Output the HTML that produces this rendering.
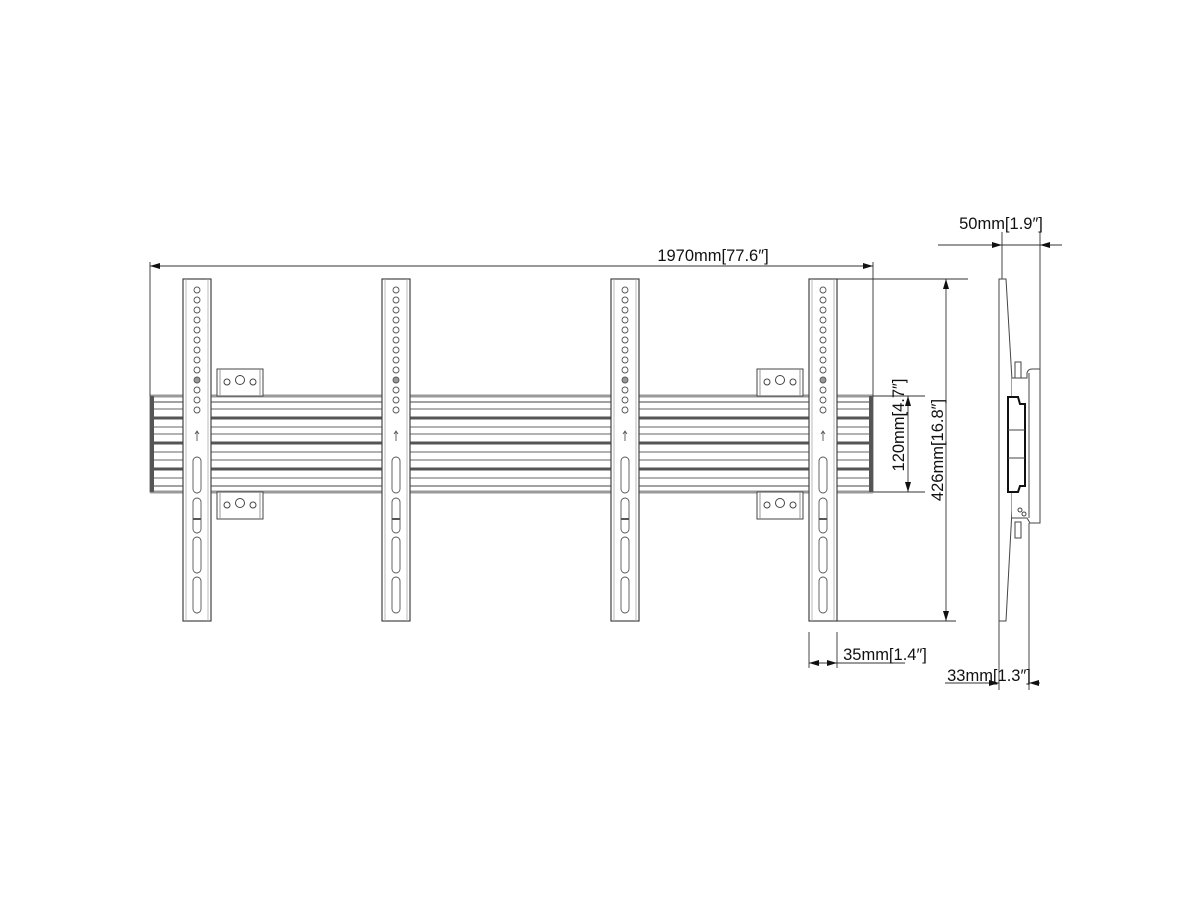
<!DOCTYPE html>
<html><head><style>body{margin:0;background:#fff}svg{display:block}text{font-family:"Liberation Sans",sans-serif;font-size:16.5px;fill:#111}</style></head>
<body>
<svg width="1200" height="900" viewBox="0 0 1200 900" xmlns="http://www.w3.org/2000/svg">
<defs>
<marker id="a" viewBox="0 0 10 6" refX="10" refY="3" markerWidth="10" markerHeight="6" orient="auto-start-reverse" markerUnits="userSpaceOnUse"><path d="M0,0L10,3L0,6z" fill="#111"/></marker>
<g id="up">
<rect x="0" y="0" width="28" height="342" fill="#fff" stroke="#444" stroke-width="1.2"/>
<line x1="3" y1="0" x2="3" y2="342" stroke="#aaa" stroke-width="0.8"/>
<line x1="25" y1="0" x2="25" y2="342" stroke="#aaa" stroke-width="0.8"/>
<g fill="none" stroke="#555" stroke-width="0.9">
<circle cx="14" cy="11" r="3"/><circle cx="14" cy="21" r="3"/><circle cx="14" cy="31" r="3"/><circle cx="14" cy="41" r="3"/><circle cx="14" cy="51" r="3"/><circle cx="14" cy="61" r="3"/><circle cx="14" cy="71" r="3"/><circle cx="14" cy="81" r="3"/><circle cx="14" cy="91" r="3"/><circle cx="14" cy="101" r="3" fill="#999"/><circle cx="14" cy="111" r="3"/><circle cx="14" cy="121" r="3"/><circle cx="14" cy="131" r="3"/>
<rect x="10" y="178" width="8" height="36" rx="4"/><rect x="10" y="219" width="8" height="35" rx="4"/><rect x="10" y="258" width="8" height="36" rx="4"/><rect x="10" y="298" width="8" height="36" rx="4"/>
<path d="M14,152v10M12,155l2,-3l2,3"/>
<line x1="10" y1="240" x2="18" y2="240" stroke-width="2"/>
</g>
</g>
<g id="br">
<rect x="0" y="0" width="46" height="27" fill="#fff" stroke="#444"/>
<line x1="3" y1="0" x2="3" y2="27" stroke="#999"/><line x1="43" y1="0" x2="43" y2="27" stroke="#999"/>
<circle cx="10" cy="13" r="3" fill="none" stroke="#444"/><circle cx="23" cy="11" r="4.5" fill="none" stroke="#444"/><circle cx="36" cy="13" r="3" fill="none" stroke="#444"/>
</g>
</defs>
<rect x="150" y="396" width="723" height="96" fill="#fff" stroke="#777"/>
<g stroke-width="1">
<line x1="150" y1="396" x2="873" y2="396" stroke="#999" stroke-width="3"/>
<line x1="150" y1="492" x2="873" y2="492" stroke="#999" stroke-width="3"/>
<line x1="154" y1="402" x2="873" y2="402" stroke="#444"/>
<line x1="154" y1="409" x2="873" y2="409" stroke="#666"/>
<line x1="154" y1="418" x2="873" y2="418" stroke="#555" stroke-width="3"/>
<line x1="154" y1="427" x2="873" y2="427" stroke="#666"/>
<line x1="154" y1="434" x2="873" y2="434" stroke="#666"/>
<line x1="154" y1="443" x2="873" y2="443" stroke="#555" stroke-width="3"/>
<line x1="154" y1="452" x2="873" y2="452" stroke="#666"/>
<line x1="154" y1="460" x2="873" y2="460" stroke="#666"/>
<line x1="154" y1="469" x2="873" y2="469" stroke="#555" stroke-width="3"/>
<line x1="154" y1="478" x2="873" y2="478" stroke="#666"/>
<line x1="154" y1="486" x2="873" y2="486" stroke="#444"/>
</g>
<rect x="150" y="396" width="4" height="96" fill="#555"/>
<rect x="869" y="396" width="4" height="96" fill="#555"/>
<use href="#br" x="217" y="369"/><use href="#br" x="217" y="492"/>
<use href="#br" x="757" y="369"/><use href="#br" x="757" y="492"/>
<use href="#up" x="183" y="279"/><use href="#up" x="382" y="279"/><use href="#up" x="611" y="279"/><use href="#up" x="809" y="279"/>
<g stroke="#333" stroke-width="0.9" fill="none">
<line x1="150" y1="262" x2="150" y2="396"/><line x1="873" y1="262" x2="873" y2="396"/>
<line x1="150" y1="266" x2="873" y2="266" marker-start="url(#a)" marker-end="url(#a)"/>
<line x1="837" y1="279" x2="968" y2="279"/><line x1="837" y1="621" x2="956" y2="621"/>
<line x1="946" y1="279" x2="946" y2="621" marker-start="url(#a)" marker-end="url(#a)"/>
<line x1="873" y1="396" x2="925" y2="396"/><line x1="873" y1="492" x2="925" y2="492"/>
<line x1="908" y1="396" x2="908" y2="492" marker-start="url(#a)" marker-end="url(#a)"/>
<line x1="809" y1="632" x2="809" y2="668"/><line x1="837" y1="632" x2="837" y2="668"/>
<line x1="809" y1="663" x2="837" y2="663" marker-start="url(#a)" marker-end="url(#a)"/>
<line x1="837" y1="663" x2="905" y2="663"/>
<line x1="1002" y1="232" x2="1002" y2="279"/><line x1="1040" y1="232" x2="1040" y2="370"/>
<line x1="938" y1="245" x2="1002" y2="245" marker-end="url(#a)"/>
<line x1="1062" y1="245" x2="1040" y2="245" marker-end="url(#a)"/>
<line x1="1002" y1="245" x2="1040" y2="245"/>
<line x1="999" y1="621" x2="999" y2="690"/><line x1="1029" y1="523" x2="1029" y2="690"/>
<line x1="945" y1="683" x2="999" y2="683" marker-end="url(#a)"/>
<line x1="1040" y1="683" x2="1029" y2="683" marker-end="url(#a)"/>
</g>
<text x="713" y="261" text-anchor="middle">1970mm[77.6″]</text>
<text x="1001" y="229" text-anchor="middle">50mm[1.9″]</text>
<text x="885" y="660" text-anchor="middle">35mm[1.4″]</text>
<text x="989" y="681" text-anchor="middle">33mm[1.3″]</text>
<text transform="translate(943,450) rotate(-90)" text-anchor="middle">426mm[16.8″]</text>
<text transform="translate(904,425) rotate(-90)" text-anchor="middle">120mm[4.7″]</text>
<g stroke="#444" stroke-width="1" fill="#fff">
<path d="M999,279L1006,279L1012,380L1012,510L1006,621L999,621Z"/>
<path d="M1012,378L1027,378L1027,373Q1028,369 1032,369L1040,369L1040,523L1030,523L1027,518L1012,518"/>
<line x1="1029" y1="373" x2="1029" y2="518"/>
<rect x="1015" y="362" width="6" height="16"/><rect x="1015" y="522" width="6" height="16"/>
<path d="M1008,397L1018,397L1020,404L1025,404L1025,486L1020,486L1018,492L1008,492Z" stroke="#111" stroke-width="2"/>
<line x1="1008" y1="430" x2="1025" y2="430"/><line x1="1008" y1="458" x2="1025" y2="458"/>
<circle cx="1020" cy="510" r="2"/><circle cx="1024" cy="514" r="2"/>
</g>
</svg>
</body></html>
